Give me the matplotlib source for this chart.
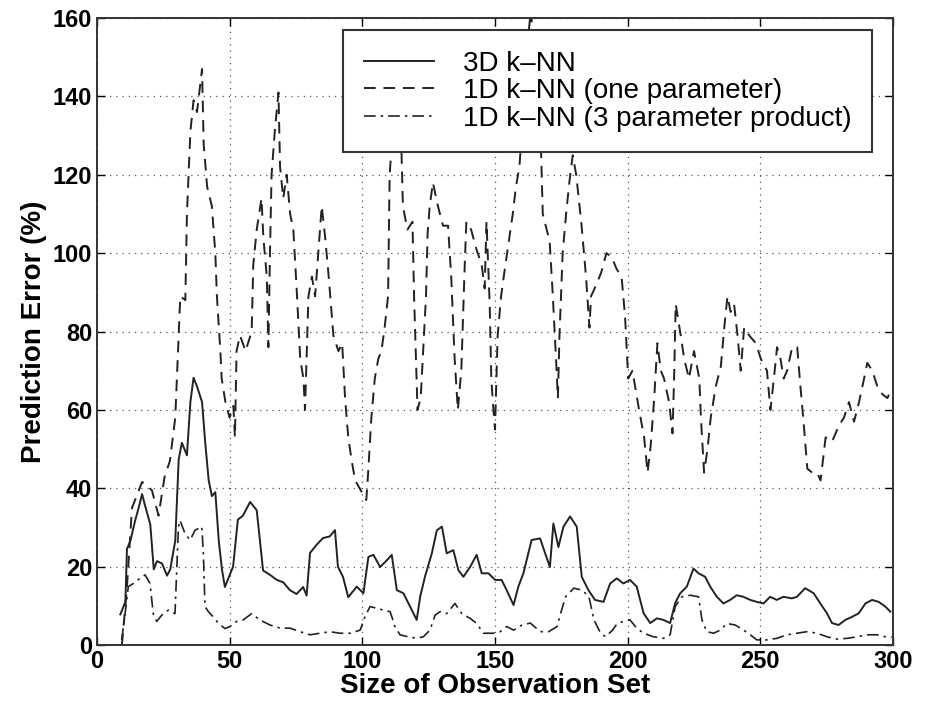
import matplotlib
matplotlib.use("Agg")
import matplotlib.pyplot as plt

plt.rcParams['font.family'] = ['Liberation Sans', 'DejaVu Sans']

# 3D k-NN (solid)
x_3d = [8.8, 10.7, 11.3, 12.6, 14.4, 15.7, 17.0, 18.2, 20.1, 21.4, 22.6, 24.5, 26.4, 27.6,
        29.5, 30.8, 32.0, 33.9, 35.2, 36.4, 37.7, 39.6, 40.8, 42.1, 43.3, 44.6, 45.9, 47.1,
        48.2, 51.3, 53.1, 55.0, 57.7, 60.2, 62.6, 65.0, 67.8, 70.2, 72.7, 75.2, 77.7, 79.0,
        80.3, 82.8, 85.2, 87.7, 89.7, 90.8, 92.7, 94.7, 97.9, 100.4, 102.3, 104.2, 106.7,
        109.2, 111.1, 113.0, 115.5, 118.0, 120.5, 121.8, 123.6, 126.2, 128.1, 130.0, 131.8,
        134.3, 136.2, 138.1, 140.6, 143.1, 145.0, 147.5, 150.1, 152.5, 154.4, 157.0, 158.8,
        160.7, 163.8, 167.0, 168.9, 170.7, 172.0, 173.9, 175.8, 178.3, 180.8, 182.7, 185.2,
        187.7, 190.9, 193.4, 195.9, 198.4, 200.9, 203.4, 206.0, 208.5, 211.0, 213.5, 216.0,
        217.9, 219.8, 222.3, 224.8, 226.7, 229.2, 231.1, 233.6, 236.1, 238.6, 241.1, 243.6,
        246.2, 248.7, 251.2, 253.7, 256.2, 258.7, 261.9, 263.8, 266.9, 270.1, 272.6, 275.1,
        277.0, 279.5, 282.0, 284.6, 287.1, 289.6, 292.1, 294.6, 297.1, 299.0]
y_3d = [7.8, 11.0, 24.5, 26.6, 31.8, 35.0, 38.5, 35.4, 30.7, 19.3, 21.4, 20.8, 17.7, 19.3,
        26.6, 47.4, 51.6, 48.4, 62.0, 68.2, 66.0, 62.0, 51.6, 42.0, 38.0, 39.0, 26.6, 19.3,
        14.8, 20.0, 32.0, 33.0, 36.5, 34.4, 19.0, 18.0, 16.6, 16.0, 14.0, 13.0, 14.8, 12.6,
        23.5, 25.6, 27.3, 27.7, 29.3, 20.0, 17.4, 12.2, 14.9, 13.2, 22.5, 23.0, 19.9,
        21.6, 23.0, 14.0, 13.2, 9.8, 6.4, 12.3, 17.4, 23.4, 29.3, 30.2, 23.4,
        24.2, 19.1, 17.4, 19.9, 23.0, 18.3, 18.3, 16.6, 16.6, 14.0, 10.2, 14.9,
        18.3, 26.8, 27.2, 23.4, 19.9, 31.0, 25.0, 30.2, 32.8, 30.2, 17.4, 14.0,
        11.5, 11.0, 15.7, 17.0, 15.7, 16.6, 14.9, 8.1, 5.6, 6.8, 6.4, 5.6,
        10.7, 13.2, 14.9, 19.5, 18.3, 17.4, 14.9, 12.3, 10.6, 11.5, 12.7, 12.3,
        11.5, 11.0, 10.6, 12.3, 11.5, 12.3, 11.9, 12.3, 14.5, 13.2, 10.6, 8.1,
        5.6, 5.1, 6.4, 7.2, 8.1, 10.6, 11.5, 11.0, 9.8, 8.5]

# 1D k-NN, one parameter (dashed)
x_1d = [9.4, 11.3, 13.2, 17.0, 20.7, 23.2, 25.5, 27.5, 29.5, 30.8, 31.4, 33.3, 33.9, 35.2,
        36.4, 37.7, 38.9, 39.6, 40.2, 41.5, 43.3, 44.6, 45.2, 46.5, 47.0, 48.4, 50.0, 51.4,
        52.0, 52.6, 53.9, 56.0, 58.3, 58.9, 60.2, 62.0, 62.7, 64.0, 64.6, 65.2, 65.8, 67.0,
        68.4, 69.0, 70.2, 71.5, 72.8, 74.0, 75.4, 76.6, 77.8, 78.4, 79.7, 81.0, 82.2, 83.4,
        84.7, 86.0, 87.2, 89.1, 91.0, 92.4, 93.5, 94.7, 96.0, 97.3, 99.8, 101.5, 102.2, 103.4,
        104.7, 106.0, 107.2, 108.4, 109.7, 110.3, 111.5, 113.0, 114.6, 115.3, 117.0, 118.9,
        119.5, 120.2, 120.8, 122.0, 124.0, 124.6, 125.4, 126.6, 128.5, 130.4, 132.3, 133.5,
        134.8, 136.0, 137.3, 138.6, 139.2, 141.0, 143.0, 145.0, 146.1, 146.8, 148.0, 148.6,
        149.3, 150.0, 151.0, 152.3, 153.5, 155.4, 156.7, 157.9, 159.2, 160.5, 162.5, 163.5,
        165.5, 167.4, 168.0, 170.6, 171.8, 173.0, 173.7, 174.3, 175.5, 176.8, 178.0, 179.3,
        180.6, 182.5, 184.3, 185.6, 186.2, 188.2, 190.0, 192.0, 194.0, 195.8, 197.7, 199.0,
        200.2, 201.8, 204.3, 206.2, 207.5, 208.7, 210.0, 211.2, 212.5, 213.7, 215.6, 216.9,
        217.5, 218.1, 220.0, 221.3, 223.1, 225.0, 227.0, 227.6, 228.8, 230.1, 231.3, 233.2,
        235.1, 236.4, 237.6, 238.8, 240.1, 241.4, 242.6, 243.9, 245.8, 248.3, 250.2, 252.5,
        253.8, 255.1, 256.3, 257.6, 258.8, 260.1, 262.0, 263.9, 265.1, 266.4, 267.7, 269.5,
        271.4, 272.7, 274.6, 277.1, 279.6, 281.5, 283.4, 285.3, 287.2, 289.1, 290.3, 292.2,
        294.1, 296.0, 297.9, 299.1]
y_1d = [0, 14.8, 35, 41.6, 39.5, 33, 43, 47, 58, 79, 89, 88, 110, 131,
        139, 136, 143, 147, 128, 117, 112, 100, 89, 75, 68, 62, 58, 61,
        53, 75, 79, 75, 80, 97, 106, 114, 104, 94, 76, 100, 120, 131,
        141, 122, 114, 120, 110, 106, 89, 73, 68, 60, 89, 94, 89, 100,
        112, 104, 95, 79, 75, 77, 63, 53, 47, 42, 39, 37, 44, 58,
        68, 73, 75, 81, 89, 120, 132, 138, 130, 112, 106, 108,
        89, 73, 60, 63, 89, 105, 112, 118, 112, 107, 107, 94,
        73, 60, 70, 97, 108, 106, 101, 97, 91, 108, 87, 68,
        61, 55, 79, 89, 95, 104, 110, 117, 122, 135, 155, 162,
        145, 125, 110, 103, 89, 73, 63, 79, 100, 110, 118, 125,
        120, 108, 94, 81, 89, 92, 95, 100, 99, 96, 94, 84,
        68, 70, 60, 53, 44, 51, 63, 77, 70, 68, 62, 54,
        68, 87, 79, 73, 68, 75, 68, 58, 44, 50, 58, 66,
        71, 81, 89, 85, 87, 79, 70, 81, 79, 77, 73, 70,
        60, 68, 76, 73, 68, 70, 76, 76, 66, 56, 45, 44,
        44, 42, 53, 52, 56, 58, 62, 57, 62, 68, 72, 70,
        66, 64, 63, 65]

# 1D k-NN, 3 parameter product (dash-dot)
x_3p = [9.3, 10.6, 11.8, 13.7, 16.2, 18.1, 20.0, 21.2, 22.5, 24.4, 26.9, 29.4, 30.7, 31.3,
        33.2, 35.1, 37.0, 39.5, 40.1, 40.7, 42.0, 43.8, 45.7, 48.2, 50.1, 52.6, 55.1, 58.3,
        61.4, 65.2, 69.0, 72.7, 76.5, 80.3, 84.1, 87.8, 91.6, 95.4, 99.2, 101.0, 102.9,
        105.4, 108.0, 110.5, 112.3, 114.2, 117.3, 120.5, 123.0, 125.5, 127.4, 129.3, 131.8,
        134.9, 137.5, 140.6, 143.1, 145.6, 149.4, 152.0, 154.4, 157.0, 160.2, 163.3, 167.1,
        170.2, 173.4, 174.7, 176.6, 179.7, 182.9, 185.4, 187.3, 189.8, 191.7, 194.3, 196.1,
        198.4, 200.9, 203.4, 206.0, 209.7, 213.5, 216.0, 217.9, 220.4, 223.6, 226.7, 228.0,
        229.8, 232.4, 234.9, 237.4, 240.5, 243.7, 246.2, 248.7, 252.5, 256.2, 260.0, 263.8,
        267.6, 271.4, 275.1, 278.9, 282.7, 286.5, 290.2, 294.0, 297.1, 299.5]
y_3p = [1.3, 8.0, 14.9, 15.7, 17.0, 17.9, 15.7, 8.0, 6.0, 7.6, 8.9, 8.0, 30.2, 31.8,
        28.4, 26.8, 29.3, 30.2, 23.4, 9.8, 8.5, 7.2, 5.6, 4.2, 4.7, 6.0, 6.4, 8.0,
        6.4, 5.1, 4.3, 4.3, 3.4, 2.6, 3.0, 3.4, 3.0, 3.0, 3.8, 7.2, 9.8,
        9.4, 8.9, 8.5, 4.7, 2.6, 2.1, 1.7, 2.1, 3.8, 7.6, 8.5, 8.0,
        10.6, 8.0, 6.8, 5.5, 3.0, 3.0, 3.4, 4.7, 3.8, 5.1, 5.6, 3.4,
        3.4, 4.7, 8.0, 12.3, 14.5, 14.0, 12.3, 6.4, 3.0, 2.1, 3.8, 5.5,
        6.0, 6.4, 4.3, 3.0, 2.1, 1.7, 2.6, 9.8, 12.3, 12.7, 12.3, 6.4,
        3.4, 3.0, 3.8, 5.5, 5.1, 3.8, 2.6, 1.3, 1.3, 1.7, 2.6, 3.0,
        3.4, 3.0, 2.1, 1.5, 1.7, 2.1, 2.6, 2.6, 2.1, 2.0]

labels = ['3D k\u2013NN', '1D k\u2013NN (one parameter)', '1D k\u2013NN (3 parameter product)']

fig = plt.figure(figsize=(9.28, 7.07), dpi=100)
ax = fig.add_axes([0.1045, 0.0877, 0.8578, 0.8868])

ax.plot(x_3d, y_3d, color='#222222', linestyle='-', linewidth=1.4, label=labels[0])
ax.plot(x_1d, y_1d, color='#222222', linestyle=(0, (6, 4)), linewidth=1.4, label=labels[1])
ax.plot(x_3p, y_3p, color='#222222', linestyle=(0, (7, 3, 1.5, 3)), linewidth=1.2, label=labels[2])

ax.set_xlim(0, 300)
ax.set_ylim(0, 160)
ax.set_xticks(range(0, 301, 50))
ax.set_yticks(range(0, 161, 20))
ax.grid(True, linestyle=(0, (1, 4)), color='#555555', linewidth=0.9)
ax.tick_params(direction='in', top=True, right=True, length=6, labelsize=17, width=1)
for lab in ax.get_xticklabels() + ax.get_yticklabels():
    lab.set_fontweight('bold')
for s in ax.spines.values():
    s.set_linewidth(1.4)
    s.set_color('#333333')

ax.set_xlabel('Size of Observation Set', fontsize=20, fontweight='bold', labelpad=0)
ax.set_ylabel('Prediction Error (%)', fontsize=20, fontweight='bold', labelpad=4)

leg = ax.legend(loc='upper right', bbox_to_anchor=(0.974, 0.981), fontsize=20,
                frameon=True, fancybox=False, framealpha=1, edgecolor='#333333',
                handlelength=2.5, handletextpad=1.05, labelspacing=0.05,
                borderpad=0.75, borderaxespad=0)
leg.get_frame().set_linewidth(1.5)

fig.savefig('out.png', dpi=100)
